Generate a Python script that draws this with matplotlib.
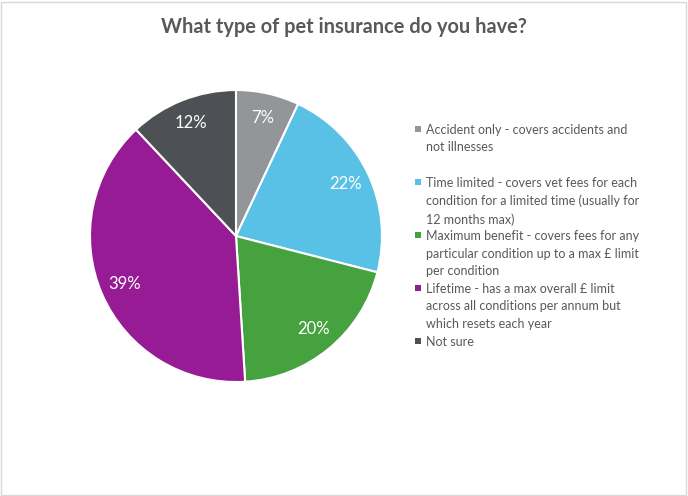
import matplotlib
matplotlib.use("Agg")
import matplotlib.pyplot as plt
from matplotlib.patches import Rectangle

title = "What type of pet insurance do you have?"
categories = [
    "Accident only - covers accidents and\nnot illnesses",
    "Time limited - covers vet fees for each\ncondition for a limited time (usually for\n12 months max)",
    "Maximum benefit - covers fees for any\nparticular condition up to a max £ limit\nper condition",
    "Lifetime - has a max overall £ limit\nacross all conditions per annum but\nwhich resets each year",
    "Not sure",
]
values = [7, 22, 20, 39, 12]
colors = ["#939598", "#59C1E6", "#46A13F", "#981B96", "#4D5155"]

FONT = ["Lato", "DejaVu Sans"]
TXT = "#595959"

fig = plt.figure(figsize=(6.88, 4.96), dpi=100)
fig.patch.set_facecolor("white")

ax = fig.add_axes([0.1308, 0.2298, 0.4244, 0.5887])
wedges, texts, autotexts = ax.pie(
    values, colors=colors, startangle=90, counterclock=False,
    autopct=lambda p: f"{p:.0f}%", pctdistance=0.83,
    wedgeprops=dict(edgecolor="white", linewidth=1.5),
    textprops=dict(color="white", fontsize=12, family=FONT),
)
ax.set_aspect("equal")
ax.set_xlim(-1.0, 1.0)
ax.set_ylim(-1.0, 1.0)

fig.text(0.5, 1 - 27 / 496, title, ha="center", va="center",
         fontsize=14.4, fontweight="bold", color=TXT, family=FONT)

# legend drawn manually, equal slots
x_marker = 418 / 688
x_text = 426 / 688
for i, (lab, col) in enumerate(zip(categories, colors)):
    y_px = 129 + 53 * i
    y = 1 - y_px / 496
    fig.patches.append(Rectangle((x_marker - 3 / 688, y - 3 / 496), 6 / 688, 6 / 496,
                                 transform=fig.transFigure, facecolor=col,
                                 edgecolor="none"))
    fig.text(x_text, y + 5 / 496, lab, ha="left", va="top", fontsize=9.0,
             color=TXT, family=FONT, linespacing=1.55)

fig.patches.append(Rectangle((1 / 688, 1 / 496), 685 / 688, 493 / 496,
                             transform=fig.transFigure, facecolor="none",
                             edgecolor="#D9D9D9", linewidth=1))

fig.savefig("out.png", dpi=100)
